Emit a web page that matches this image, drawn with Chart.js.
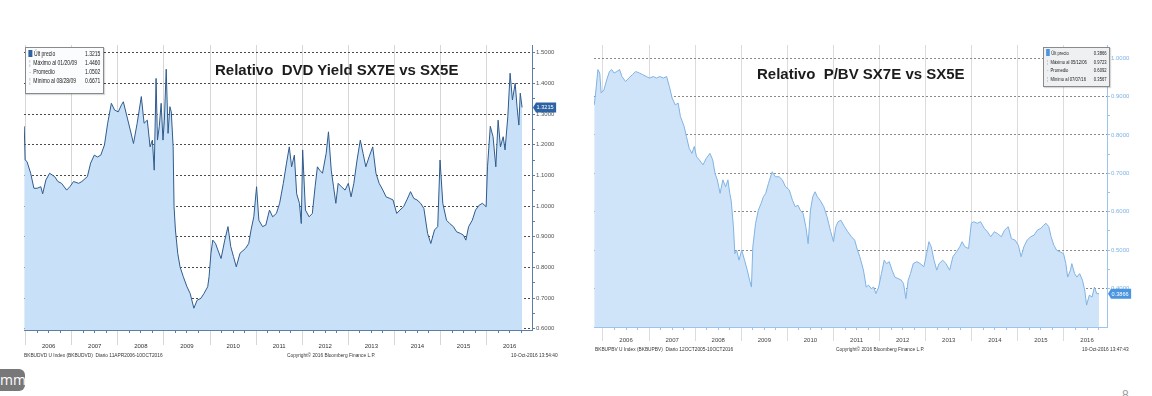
<!DOCTYPE html>
<html>
<head>
<meta charset="utf-8">
<script src="https://cdn.jsdelivr.net/npm/chart.js@4.4.0/dist/chart.umd.min.js"></script>
<style>
  body { margin: 0; background: #fff; width: 1152px; height: 396px; overflow: hidden; position: relative;
         font-family: 'Liberation Sans', Arial, sans-serif; }
  canvas { position: absolute; }
  .title { position: absolute; font-weight: bold; font-size: 15px; color: #1c1c1c; white-space: pre; }
  .foot { position: absolute; font: 6px 'Liberation Sans', Arial, sans-serif; color: #333; white-space: pre;
          transform: scaleX(0.8); transform-origin: 0 0; }
  .legend { position: absolute; border: 1px solid #8a8a8a; box-shadow: 1px 1px 1px rgba(0,0,0,0.15); overflow: hidden;
            font: 6.3px 'Liberation Sans', Arial, sans-serif; color: #222; }
  .legend .in { position: absolute; left: 0; top: 1px; transform: scaleX(0.8); transform-origin: 0 0; }
  .legend .row { position: relative; height: 9px; line-height: 9px; white-space: pre; }
  .legend .val { position: absolute; right: 3px; top: 0; }
  .legend .mk { display: inline-block; width: 4px; margin: 0 2px 0 3px; color: #7a8ea4; text-align: center; }
  .legend .sq { display: inline-block; width: 5px; height: 7px; margin: 0 2px -1px 3px; background: #2d63a2; }
  #mm { position: absolute; left: -12px; top: 369px; width: 37px; height: 22px; border-radius: 6px; background: #787878;
        color: #fff; font: 14px 'Open Sans', sans-serif; line-height: 21px; text-indent: 12px; }
  #pg { position: absolute; left: 1122px; top: 388px; font: 12px 'Liberation Sans', sans-serif; color: #999; }
</style>
</head>
<body>

<canvas id="dvd" width="545" height="325" style="left:20px;top:40px"></canvas>
<canvas id="pbv" width="550" height="325" style="left:590px;top:40px"></canvas>

<div class="title" style="left:215px;top:61px">Relativo  DVD Yield SX7E vs SX5E</div>
<div class="title" style="left:757px;top:65px">Relativo  P/BV SX7E vs SX5E</div>

<div class="legend" style="left:25px;top:47px;width:77px;height:45px;background:#fbfcfd">
  <div class="in" style="width:96px">
    <div class="row"><span class="sq"></span>Últ precio<span class="val">1.3215</span></div>
    <div class="row"><span class="mk">¦</span>Máximo al 01/20/09<span class="val">1.4460</span></div>
    <div class="row"><span class="mk">-</span>Promedio<span class="val">1.0502</span></div>
    <div class="row"><span class="mk">¦</span>Mínimo al 08/28/09<span class="val">0.6671</span></div>
  </div>
</div>
<div class="legend" style="left:1043px;top:47px;width:65px;height:38px;background:#eef0f2;font-size:5.8px">
  <div class="in" style="width:90px;transform:scaleX(0.72)">
    <div class="row" style="height:8.6px"><span class="sq" style="background:#4a95e0"></span>Últ precio<span class="val">0.3866</span></div>
    <div class="row" style="height:8.6px"><span class="mk">¦</span>Máximo al 05/12/06<span class="val">0.9723</span></div>
    <div class="row" style="height:8.6px"><span class="mk">-</span>Promedio<span class="val">0.6092</span></div>
    <div class="row" style="height:8.6px"><span class="mk">¦</span>Mínimo al 07/07/16<span class="val">0.3567</span></div>
  </div>
</div>

<div class="foot" style="left:24px;top:352px">BKBUDVD U Index (BKBUDVD)  Diario 11APR2006-10OCT2016</div>
<div class="foot" style="left:287px;top:352px">Copyright© 2016 Bloomberg Finance L.P.</div>
<div class="foot" style="left:511px;top:352px">10-Oct-2016 13:54:40</div>
<div class="foot" style="left:595px;top:346px">BKBUPBV U Index (BKBUPBV)  Diario 12OCT2005-10OCT2016</div>
<div class="foot" style="left:836px;top:346px">Copyright© 2016 Bloomberg Finance L.P.</div>
<div class="foot" style="left:1082px;top:346px">10-Oct-2016 13:47:43</div>

<div id="mm">mm</div>
<div id="pg">8</div>

<script>
// Year labels shown under both charts
var yearLabels = [2006, 2007, 2008, 2009, 2010, 2011, 2012, 2013, 2014, 2015, 2016];

// Relative DVD yield SX7E / SX5E (dates as decimal years)
var dvdDates = [
  2005.97, 2005.99, 2006.03, 2006.11, 2006.18, 2006.25, 2006.33, 2006.37, 2006.44, 2006.52,
  2006.63, 2006.70, 2006.78, 2006.89, 2006.96, 2007.04, 2007.15, 2007.22, 2007.34, 2007.41,
  2007.49, 2007.56, 2007.63, 2007.71, 2007.78, 2007.86, 2007.93, 2008.01, 2008.08, 2008.12,
  2008.19, 2008.27, 2008.34, 2008.42, 2008.51, 2008.57, 2008.64, 2008.70, 2008.75, 2008.79,
  2008.83, 2008.86, 2008.90, 2008.94, 2008.98, 2009.01, 2009.05, 2009.09, 2009.13, 2009.16,
  2009.20, 2009.22, 2009.25, 2009.30, 2009.35, 2009.42, 2009.50, 2009.57, 2009.65, 2009.72,
  2009.80, 2009.87, 2009.95, 2009.98, 2010.02, 2010.06, 2010.12, 2010.17, 2010.24, 2010.32,
  2010.39, 2010.45, 2010.51, 2010.57, 2010.65, 2010.77, 2010.84, 2010.89, 2010.95, 2011.01,
  2011.06, 2011.14, 2011.21, 2011.29, 2011.36, 2011.44, 2011.51, 2011.59, 2011.66, 2011.72,
  2011.77, 2011.83, 2011.88, 2011.94, 2011.98, 2012.01, 2012.07, 2012.15, 2012.22, 2012.28,
  2012.33, 2012.38, 2012.44, 2012.52, 2012.57, 2012.63, 2012.68, 2012.73, 2012.78, 2012.85,
  2012.93, 2013.00, 2013.06, 2013.12, 2013.19, 2013.26, 2013.32, 2013.38, 2013.45, 2013.53,
  2013.60, 2013.67, 2013.75, 2013.82, 2013.90, 2013.97, 2014.05, 2014.12, 2014.20, 2014.27,
  2014.35, 2014.42, 2014.49, 2014.57, 2014.64, 2014.72, 2014.79, 2014.87, 2014.94, 2014.99,
  2015.05, 2015.13, 2015.20, 2015.28, 2015.35, 2015.43, 2015.50, 2015.55, 2015.61, 2015.69,
  2015.76, 2015.84, 2015.91, 2015.99, 2016.02, 2016.08, 2016.14, 2016.20, 2016.25, 2016.30,
  2016.36, 2016.40, 2016.46, 2016.51, 2016.56, 2016.62, 2016.66, 2016.70, 2016.73, 2016.77
];
var dvdValues = [
  1.260, 1.150, 1.145, 1.107, 1.058, 1.058, 1.063, 1.040, 1.085, 1.107,
  1.096, 1.080, 1.074, 1.052, 1.063, 1.080, 1.074, 1.080, 1.096, 1.140,
  1.166, 1.160, 1.166, 1.199, 1.270, 1.335, 1.313, 1.307, 1.330, 1.340,
  1.297, 1.248, 1.204, 1.270, 1.357, 1.270, 1.280, 1.193, 1.215, 1.117,
  1.416, 1.215, 1.260, 1.335, 1.215, 1.280, 1.446, 1.237, 1.324, 1.307,
  1.193, 0.998, 0.922, 0.846, 0.802, 0.770, 0.737, 0.715, 0.667, 0.693,
  0.699, 0.715, 0.737, 0.770, 0.846, 0.889, 0.878, 0.857, 0.829, 0.889,
  0.933, 0.868, 0.835, 0.802, 0.846, 0.862, 0.878, 0.922, 0.965, 1.063,
  0.954, 0.933, 0.938, 0.987, 0.965, 0.976, 1.009, 1.074, 1.140, 1.193,
  1.128, 1.166, 1.040, 1.009, 0.943, 1.183, 0.987, 0.965, 0.976, 1.063,
  1.128, 1.117, 1.107, 1.172, 1.242, 1.117, 1.063, 1.009, 1.074, 1.063,
  1.052, 1.074, 1.030, 1.074, 1.150, 1.215, 1.172, 1.128, 1.160, 1.193,
  1.107, 1.074, 1.052, 1.030, 1.025, 1.020, 0.976, 0.987, 0.998, 1.020,
  1.047, 1.025, 1.020, 1.009, 0.992, 0.911, 0.878, 0.922, 0.933, 1.150,
  1.009, 0.954, 0.943, 0.933, 0.916, 0.911, 0.905, 0.889, 0.933, 0.954,
  0.987, 1.003, 1.009, 0.998, 1.128, 1.260, 1.226, 1.128, 1.280, 1.193,
  1.226, 1.183, 1.291, 1.433, 1.346, 1.400, 1.324, 1.264, 1.368, 1.3215
];
var dvdTicks = [0.6, 0.7, 0.8, 0.9, 1.0, 1.1, 1.2, 1.3, 1.4, 1.5];

// Relative P/BV SX7E / SX5E
var pbvDates = [
  2005.81, 2005.84, 2005.89, 2005.93, 2005.96, 2006.02, 2006.08, 2006.14, 2006.19, 2006.24,
  2006.30, 2006.36, 2006.41, 2006.49, 2006.56, 2006.64, 2006.71, 2006.79, 2006.86, 2006.94,
  2007.01, 2007.09, 2007.16, 2007.23, 2007.31, 2007.38, 2007.44, 2007.50, 2007.57, 2007.63,
  2007.68, 2007.76, 2007.81, 2007.87, 2007.93, 2007.98, 2008.03, 2008.09, 2008.17, 2008.24,
  2008.32, 2008.38, 2008.43, 2008.48, 2008.54, 2008.60, 2008.66, 2008.71, 2008.75, 2008.78,
  2008.83, 2008.86, 2008.90, 2008.95, 2009.01, 2009.07, 2009.13, 2009.18, 2009.22, 2009.25,
  2009.31, 2009.37, 2009.43, 2009.48, 2009.53, 2009.59, 2009.67, 2009.74, 2009.82, 2009.89,
  2009.96, 2010.04, 2010.11, 2010.17, 2010.23, 2010.28, 2010.34, 2010.40, 2010.45, 2010.50,
  2010.55, 2010.60, 2010.65, 2010.71, 2010.79, 2010.86, 2010.94, 2011.00, 2011.05, 2011.10,
  2011.16, 2011.24, 2011.31, 2011.39, 2011.46, 2011.52, 2011.57, 2011.65, 2011.71, 2011.76,
  2011.82, 2011.87, 2011.92, 2011.98, 2012.04, 2012.10, 2012.15, 2012.21, 2012.27, 2012.33,
  2012.40, 2012.47, 2012.52, 2012.57, 2012.62, 2012.67, 2012.73, 2012.81, 2012.88, 2012.96,
  2013.02, 2013.07, 2013.12, 2013.18, 2013.24, 2013.29, 2013.37, 2013.44, 2013.52, 2013.59,
  2013.67, 2013.74, 2013.79, 2013.85, 2013.93, 2013.99, 2014.04, 2014.12, 2014.19, 2014.27,
  2014.34, 2014.41, 2014.49, 2014.56, 2014.64, 2014.71, 2014.79, 2014.86, 2014.94, 2015.01,
  2015.07, 2015.13, 2015.20, 2015.28, 2015.35, 2015.42, 2015.50, 2015.56, 2015.61, 2015.67,
  2015.72, 2015.78, 2015.84, 2015.91, 2015.99, 2016.04, 2016.08, 2016.14, 2016.17, 2016.23,
  2016.28, 2016.34, 2016.40, 2016.45, 2016.49, 2016.55, 2016.61, 2016.66, 2016.71, 2016.76
];
var pbvValues = [
  0.878, 0.909, 0.970, 0.961, 0.909, 0.917, 0.943, 0.965, 0.970, 0.961,
  0.965, 0.970, 0.952, 0.939, 0.948, 0.957, 0.965, 0.961, 0.957, 0.952,
  0.948, 0.952, 0.948, 0.952, 0.948, 0.952, 0.926, 0.896, 0.878, 0.883,
  0.848, 0.822, 0.796, 0.765, 0.752, 0.770, 0.743, 0.735, 0.722, 0.739,
  0.752, 0.735, 0.700, 0.683, 0.648, 0.683, 0.665, 0.683, 0.648, 0.630,
  0.561, 0.491, 0.500, 0.474, 0.500, 0.474, 0.448, 0.422, 0.404, 0.509,
  0.570, 0.604, 0.622, 0.639, 0.648, 0.674, 0.704, 0.691, 0.691, 0.683,
  0.665, 0.657, 0.630, 0.613, 0.617, 0.604, 0.596, 0.561, 0.517, 0.604,
  0.639, 0.652, 0.639, 0.630, 0.613, 0.587, 0.548, 0.522, 0.561, 0.574,
  0.578, 0.561, 0.548, 0.535, 0.526, 0.500, 0.483, 0.448, 0.404, 0.409,
  0.400, 0.404, 0.387, 0.404, 0.439, 0.474, 0.465, 0.470, 0.448, 0.430,
  0.426, 0.422, 0.413, 0.374, 0.422, 0.439, 0.465, 0.470, 0.465, 0.457,
  0.491, 0.522, 0.509, 0.474, 0.448, 0.465, 0.474, 0.465, 0.448, 0.483,
  0.496, 0.509, 0.522, 0.509, 0.504, 0.570, 0.574, 0.570, 0.574, 0.557,
  0.548, 0.535, 0.548, 0.543, 0.535, 0.552, 0.561, 0.530, 0.526, 0.513,
  0.483, 0.509, 0.526, 0.535, 0.539, 0.552, 0.557, 0.565, 0.570, 0.561,
  0.535, 0.513, 0.500, 0.496, 0.491, 0.465, 0.430, 0.448, 0.465, 0.439,
  0.430, 0.439, 0.422, 0.396, 0.357, 0.383, 0.378, 0.404, 0.387, 0.3866
];
var pbvTicks = [0.4, 0.5, 0.6, 0.7, 0.8, 0.9, 1.0];

var smallFont = { family: "'Liberation Sans', Arial, sans-serif", size: 6 };

// Draws the coloured "last price" tag on the value axis
var lastTag = {
  id: 'lastTag',
  afterDraw: function(chart, args, opts) {
    var yScale = chart.scales.y;
    var pts = chart.data.datasets[0].data;
    var v = pts[pts.length - 1].y;
    var py = yScale.getPixelForValue(v);
    var ctx = chart.ctx;
    var x0 = yScale.left + 1;
    ctx.save();
    ctx.font = "5.6px 'Liberation Sans', Arial, sans-serif";
    var w = Math.max(opts.w, ctx.measureText(v.toFixed(4)).width + 6);
    ctx.fillStyle = opts.bg;
    ctx.beginPath();
    ctx.moveTo(x0, py);
    ctx.lineTo(x0 + 3, py - 5);
    ctx.lineTo(x0 + w, py - 5);
    ctx.lineTo(x0 + w, py + 5);
    ctx.lineTo(x0 + 3, py + 5);
    ctx.closePath();
    ctx.fill();
    ctx.fillStyle = '#fff';
    ctx.textBaseline = 'middle';
    ctx.fillText(v.toFixed(4), x0 + 3.5, py + 0.5);
    ctx.restore();
  }
};

function makeChart(id, s) {
  var points = s.dates.map(function(d, i) { return { x: d, y: s.values[i] }; });
  var minorTicks = [];
  yearLabels.forEach(function(y) { minorTicks.push(y + 0.25, y + 0.5, y + 0.75); });
  var minorY = [];
  s.ticks.forEach(function(t) { minorY.push(t, Math.round((t + 0.05) * 100) / 100); });

  return new Chart(document.getElementById(id), {
    type: 'line',
    data: {
      datasets: [{
        data: points,
        borderColor: s.line,
        backgroundColor: s.fill,
        borderWidth: 1,
        pointRadius: 0,
        fill: 'start',
        tension: 0
      }]
    },
    plugins: [lastTag],
    options: {
      responsive: false,
      animation: false,
      devicePixelRatio: 1,
      layout: { padding: { left: 4, top: 5, right: 0, bottom: 0 } },
      plugins: {
        legend: { display: false },
        tooltip: { enabled: false },
        lastTag: { bg: s.tagBg, w: s.tagW }
      },
      scales: {
        // year separators (vertical gridlines reaching down into the label band)
        xg: {
          type: 'linear', position: 'bottom', weight: 0, min: s.xMin, max: s.xMax,
          afterBuildTicks: function(sc) {
            sc.ticks = yearLabels.filter(function(y) { return y > s.xMin; }).map(function(y) { return { value: y }; });
          },
          afterFit: function(sc) { sc.height = 0; },
          ticks: { display: false },
          grid: { color: s.vGrid, tickColor: s.vGrid, tickLength: s.sepLen, drawTicks: true },
          border: { display: true, color: s.axisColor }
        },
        // small quarterly ticks along the time axis
        xm: {
          type: 'linear', position: 'bottom', weight: 1, min: s.xMin, max: s.xMax,
          afterBuildTicks: function(sc) {
            sc.ticks = minorTicks.filter(function(v) { return v > s.xMin && v < s.xMax; }).map(function(v) { return { value: v }; });
          },
          afterFit: function(sc) { sc.height = 0; },
          ticks: { display: false },
          grid: { drawOnChartArea: false, tickLength: 3, tickColor: s.axisColor },
          border: { display: false }
        },
        // year labels, centred in each year
        x: {
          type: 'linear', position: 'bottom', weight: 2, min: s.xMin, max: s.xMax,
          afterBuildTicks: function(sc) {
            sc.ticks = yearLabels.map(function(y) { return { value: y + 0.5 }; });
          },
          afterFit: function(sc) { sc.height = s.xAxisH; },
          ticks: {
            autoSkip: false, maxRotation: 0, padding: s.labelPad, font: smallFont, color: s.xLabelColor,
            callback: function(v) { return String(Math.floor(v)); }
          },
          grid: { display: false, drawTicks: false },
          border: { display: false }
        },
        y: {
          type: 'linear', position: 'right', min: s.yMin, max: s.yMax,
          afterBuildTicks: function(sc) {
            sc.ticks = minorY.filter(function(v) { return v <= s.yMax; }).map(function(v) { return { value: v }; });
          },
          afterFit: function(sc) { sc.width = s.yAxisW; },
          ticks: {
            padding: 1, font: smallFont, color: s.yLabelColor,
            callback: function(v) {
              return s.ticks.some(function(t) { return Math.abs(t - v) < 1e-6; }) ? v.toFixed(4) : '';
            }
          },
          grid: {
            color: function(c) {
              var major = s.ticks.some(function(t) { return c.tick && Math.abs(t - c.tick.value) < 1e-6; });
              return major ? s.hGrid : 'rgba(0,0,0,0)';
            },
            tickColor: s.axisColor,
            tickLength: 3
          },
          border: { display: true, color: s.axisColor, dash: [2, 2] }
        }
      }
    }
  });
}

window.onload = function() {
  makeChart('dvd', {
    dates: dvdDates, values: dvdValues, ticks: dvdTicks,
    xMin: 2005.965, xMax: 2016.985, yMin: 0.596, yMax: 1.525,
    line: '#2f5b8c', fill: '#c9e1f8',
    hGrid: '#4a4a4a', vGrid: '#d6d6d6', axisColor: '#5b7ea6',
    xLabelColor: '#333', yLabelColor: '#555',
    yAxisW: 33, xAxisH: 35, labelPad: 13, sepLen: 15,
    tagBg: '#2d63a2', tagW: 21
  });
  makeChart('pbv', {
    dates: pbvDates, values: pbvValues, ticks: pbvTicks,
    xMin: 2005.805, xMax: 2016.933, yMin: 0.3, yMax: 1.034,
    line: '#80b3e3', fill: '#cfe4f9',
    hGrid: '#8a8a8a', vGrid: '#dcdcdc', axisColor: '#9cc4ec',
    xLabelColor: '#444', yLabelColor: '#7fb2e2',
    yAxisW: 33, xAxisH: 38, labelPad: 10, sepLen: 14,
    tagBg: '#4a95e0', tagW: 18
  });
};
</script>
</body>
</html>
